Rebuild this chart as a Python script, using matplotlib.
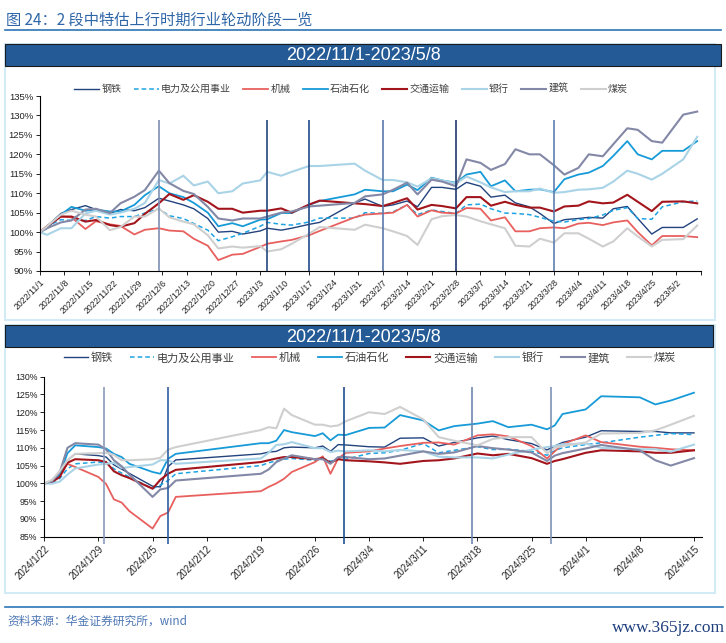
import pandas as pd
import matplotlib
matplotlib.use('Agg')
import matplotlib.pyplot as plt
from matplotlib.patches import Rectangle
from matplotlib.lines import Line2D

plt.rcParams['font.family'] = ['Noto Sans CJK SC', 'DejaVu Sans']

W, H = 726, 643

names = ['钢铁', '电力及公用事业', '机械', '石油石化', '交通运输', '银行', '建筑', '煤炭']
colors = ['#22437d', '#1ca3e3', '#e8605e', '#169ad8', '#a3151c', '#a9d3e6', '#8388a6', '#cfcfcf']
widths = [1.0, 1.1, 1.3, 1.3, 1.5, 1.5, 1.5, 1.5]
styles = ['-', (0, (3, 2)), '-', '-', '-', '-', '-', '-']

# ---- 2022/11/1 - 2023/5/8
dates_a = ['2022-11-01', '2022-11-03', '2022-11-07', '2022-11-10', '2022-11-14', '2022-11-17',
           '2022-11-21', '2022-11-24', '2022-11-28', '2022-12-01', '2022-12-05', '2022-12-08',
           '2022-12-12', '2022-12-15', '2022-12-19', '2022-12-22', '2022-12-26', '2022-12-29',
           '2023-01-03', '2023-01-05', '2023-01-09', '2023-01-12', '2023-01-17', '2023-01-20',
           '2023-01-30', '2023-02-02', '2023-02-07', '2023-02-10', '2023-02-14', '2023-02-17',
           '2023-02-21', '2023-02-24', '2023-02-28', '2023-03-03', '2023-03-07', '2023-03-10',
           '2023-03-14', '2023-03-17', '2023-03-21', '2023-03-24', '2023-03-28', '2023-03-31',
           '2023-04-04', '2023-04-07', '2023-04-11', '2023-04-14', '2023-04-18', '2023-04-21',
           '2023-04-25', '2023-04-28', '2023-05-04', '2023-05-08']
steel_a = [100, 101.5, 104.8, 105.8, 106.8, 105.8, 104.8, 105.8, 105.5, 106.3,
           108.7, 108, 107, 106, 103.5, 100, 100.2, 99.5, 100.3, 101,
           100.5, 101, 102, 102.5, 107.5, 108.5, 106.6, 107, 108, 106.5,
           111.5, 111.5, 111, 112.8, 111.8, 109, 109.5, 107.5, 106.5, 104.8,
           102.2, 103.2, 103.5, 103.8, 103.6, 106, 106.6, 103.5, 99.5, 101.2,
           101.2, 103.4]
power_a = [100, 101.5, 103.2, 103, 103, 104, 103.6, 104, 104, 104.9,
           106, 104.2, 103.5, 102.2, 100.5, 97.8, 98.8, 99.7, 101.5, 102.5,
           102, 101.8, 102.6, 103.6, 103.6, 105, 104.8, 105.2, 107, 104.5,
           105.7, 105.3, 104.8, 107, 107.2, 106, 104.9, 104.8, 104.5, 103.8,
           102.8, 102.6, 103.2, 103.5, 104.4, 105.6, 106.3, 103.5, 103.3, 106.5,
           107.8, 108]
mach_a = [100, 101.5, 104, 103.8, 100.8, 102.8, 102, 101.6, 99.4, 100.6,
          101, 100.4, 100.2, 98.3, 96.5, 92.8, 94.2, 94.4, 96.2, 97,
          97.6, 98, 99.2, 100.3, 103.8, 104.5, 104.8, 105, 107, 104,
          105.6, 105, 104.8, 106.2, 106, 103, 103.8, 100.2, 100.2, 101,
          101.2, 101, 102.2, 102.4, 101.8, 102.5, 103, 100, 96.6, 99,
          99, 98.7]
oil_a = [100, 101, 104.5, 106.5, 105.5, 105.8, 105.3, 105.3, 107, 109.5,
         111.8, 110, 109, 107.5, 105, 101.5, 102.3, 101.5, 103.2, 103.3,
         104.9, 104.9, 107, 108, 109.7, 110.9, 110.5, 110.5, 112.2, 110.8,
         114, 113.3, 112.7, 114.8, 115.5, 111.8, 113.3, 110.5, 110.9, 111,
         110.3, 113.6, 114.8, 115.3, 117, 119.6, 123.4, 120, 118.7, 120.9,
         120.9, 123.4]
trans_a = [100, 101.5, 104, 104, 102.7, 103.1, 101.8, 101.4, 102.3, 104.7,
           107.4, 109.8, 108.3, 109.5, 107.8, 106, 106, 105, 105.5, 105.5,
           106.1, 105, 107.1, 108.1, 107.4, 107.2, 106.7, 107.5, 108.7, 105.8,
           107, 106.7, 106.1, 109, 109, 106.8, 107.8, 107, 106.3, 106.3,
           105.3, 106.6, 106.8, 107.9, 107.4, 107.6, 109.6, 107.8, 105.4, 107.8,
           107.9, 107.4]
bank_a = [100, 99.3, 101, 101, 104.8, 105.5, 104.5, 105, 106, 107.5,
          113.4, 112.5, 114.5, 112, 113, 110, 110.5, 112.5, 113.3, 115.5,
          114.5, 115.5, 117, 117, 117.6, 115.8, 113.4, 113.4, 112.8, 111.7,
          113.8, 113.3, 112.5, 114.3, 112.8, 111.5, 110.3, 110.5, 110.5, 111.2,
          110.1, 110.3, 110.9, 111, 111.4, 113, 115.8, 115, 113.5, 115,
          118.7, 124.5]
build_a = [100, 101, 102.5, 103, 105.8, 106, 104.9, 107.4, 109.1, 110.8,
           115.8, 112.6, 110.6, 109.8, 106.5, 103.5, 103, 103.5, 103.5, 104,
           105, 105.3, 106.6, 106.8, 107.5, 109.2, 109.7, 110.9, 112.7, 109.7,
           113.5, 113, 111.8, 118.7, 117.8, 116, 117.5, 121.3, 120, 120,
           117.2, 114.8, 116.5, 120, 119.5, 122.6, 126.7, 126.3, 123.4, 123,
           130.2, 131]
coal_a = [100, 101.5, 104.5, 105.5, 104.5, 104, 100.5, 101.3, 104, 104,
          106.1, 103.8, 102.7, 102, 99.2, 95.8, 96.3, 96, 96.4, 95,
          95.6, 97, 99.6, 101.3, 100.6, 101.9, 101, 100.2, 99, 96.7,
          103.3, 104.1, 104.4, 104, 102.8, 102, 101, 96.5, 96.3, 98.3,
          97.3, 99.7, 99.7, 98.3, 96.3, 97.6, 101, 98.9, 96.3, 98,
          98.2, 101.7]
vlines_a = ['2022-12-05 00:00', '2023-01-05 00:00', '2023-01-17 00:00',
            '2023-02-07 00:00', '2023-02-28 00:00', '2023-03-28 00:00']
vcolors_a = ['#7d8fb3', '#22487f', '#1f4a8a', '#5a78aa', '#1f3a6e', '#5f7fb0']

# ---- 2024/1/22 - 2024/4/15
dates_b = ['2024-01-22', '2024-01-23', '2024-01-24', '2024-01-25', '2024-01-26', '2024-01-29',
           '2024-01-30', '2024-01-31', '2024-02-01', '2024-02-02', '2024-02-05', '2024-02-06',
           '2024-02-07', '2024-02-08', '2024-02-19', '2024-02-20', '2024-02-21', '2024-02-22',
           '2024-02-23', '2024-02-26', '2024-02-27', '2024-02-28', '2024-02-29', '2024-03-01',
           '2024-03-04', '2024-03-06', '2024-03-08', '2024-03-11', '2024-03-13', '2024-03-15',
           '2024-03-18', '2024-03-20', '2024-03-22', '2024-03-25', '2024-03-27', '2024-03-28',
           '2024-03-29', '2024-04-01', '2024-04-03', '2024-04-08', '2024-04-10', '2024-04-12',
           '2024-04-15']
steel_b = [100, 100.5, 102, 106.5, 108.3, 107.8, 107.4, 105.2, 104, 102.8,
           99.2, 99, 104.7, 106.6, 108.3, 108.8, 109, 110, 110.2, 110,
           110.5, 109, 110.9, 110.8, 110.3, 110.2, 112.7, 112.8, 110.5, 111.5,
           112.8, 113.3, 112.3, 111.2, 109.4, 110.5, 111.5, 113, 114.8, 114.6,
           114.6, 114.2, 114.2]
power_b = [100, 100.2, 101.4, 104.1, 105.5, 106, 105.8, 104.1, 102.9, 101.8,
           98.5, 99.5, 100.8, 102.7, 105, 105.8, 106.3, 106.8, 107, 106.5,
           107.1, 106.2, 106.8, 106.8, 108.4, 108.6, 109.3, 111.2, 108.6, 109.3,
           110.3, 109.5, 109.6, 109, 107.9, 109.2, 110, 110.9, 111.4, 113,
           113.5, 114, 113.7]
mach_b = [100, 100.5, 102.5, 105.5, 104.6, 101.8, 99.8, 95.5, 94.6, 92.2,
          87.3, 90.8, 91.8, 96.2, 97.8, 99, 100, 101.3, 103.2, 106,
          107.6, 102.7, 107, 108.6, 109, 109.8, 110.5, 111.4, 111.5, 110.9,
          113.5, 113.8, 113.2, 110.5, 107, 109, 111, 113.5, 111.6, 110.3,
          110, 109.6, 109.3]
oil_b = [100, 100.4, 102.5, 108.5, 110.7, 110.2, 109.8, 108.3, 107.4, 105.5,
         103.2, 102.7, 106.9, 108.3, 111.3, 111.3, 112, 115, 114.4, 113.3,
         114.1, 112.1, 113.7, 113.6, 115.6, 115.7, 119.2, 117.7, 114.9, 116.1,
         116.8, 117.5, 115.8, 116.5, 115.2, 116.3, 119.5, 120.8, 124.5, 124.2,
         122.2, 123.3, 125.5]
trans_b = [100, 100.4, 101.8, 105.8, 106.8, 106.5, 106, 103.4, 102.3, 101.5,
           98.5, 101, 102.7, 103.8, 106, 106.5, 107, 107.4, 107.4, 106.8,
           107.1, 105.8, 106.8, 106.5, 106.2, 105.9, 105.5, 106.3, 106.5, 107,
           108.4, 107.9, 108.3, 107.1, 105.5, 106.3, 106.8, 108.6, 109.3, 109,
           108.6, 108.6, 109.3]
bank_b = [100, 99.9, 100.5, 102.5, 104.2, 105.3, 105.5, 105.8, 104.3, 104.6,
          105.3, 106.5, 106.5, 105.5, 107, 108.6, 110.8, 111, 111.6, 109.9,
          109.9, 108.8, 109.2, 109, 109.3, 109, 109.4, 109, 107.5, 107.3,
          107.3, 107, 108.1, 109.5, 110.2, 110.5, 111, 111.2, 110, 109.6,
          109.6, 108.9, 110.9]
build_b = [100, 100.6, 103.2, 110, 111.3, 110.9, 109.5, 106.5, 104.8, 102.5,
           96.2, 98.3, 98.7, 100.8, 102.7, 103.9, 106, 107, 107.9, 106.8,
           106.8, 105.5, 107.4, 107.4, 106.8, 107, 107.8, 109, 108.3, 108.7,
           110.5, 109.9, 109.5, 108.7, 106.3, 107.8, 108.5, 109.8, 110.8, 109.3,
           106.5, 105, 107.1]
coal_b = [100, 101, 103.5, 106.5, 108.3, 108.5, 108.6, 108, 106.5, 106.5,
          106.8, 107.2, 109.5, 110.2, 115, 115.8, 115.5, 121, 119.2, 116.5,
          116.5, 116, 116.3, 117.5, 120, 119.5, 121.5, 118, 113, 112,
          110.7, 112.5, 113, 113, 108.5, 110, 110.5, 111.5, 114, 114.2,
          114.9, 116.5, 119]
vlines_b = ['2024-01-29 18:00', '2024-02-07 00:00', '2024-02-29 18:00',
            '2024-03-17 08:00', '2024-03-27 12:00']
vcolors_b = ['#8a9bbb', '#2f5da0', '#1f4e8c', '#6f86b0', '#7f93b8']


def fx(x):
    return x / W


def fy(y):
    return 1 - y / H


fig = plt.figure(figsize=(W / 100, H / 100), dpi=100)

# header
fig.text(fx(6), fy(20), '图 24：2 段中特估上行时期行业轮动阶段一览', fontsize=11,
         color='#2f66a8', va='center', ha='left')
fig.add_artist(Line2D([fx(5), fx(721)], [fy(30), fy(30)], color='#2e75b6', lw=1.2))

# panel frames and banners
for top, bot, bright in [(44, 320, 721), (325, 593, 713)]:
    fig.add_artist(Rectangle((fx(5), fy(bot)), (715 - 5) / W, (bot - top) / H,
                             fill=False, ec='#d3eaf7', lw=1.5, transform=fig.transFigure))
    fig.add_artist(Rectangle((fx(5), fy(top + 22)), (bright - 5) / W, 22 / H,
                             fc='#245b96', ec='#1a1a1a', lw=0.8, transform=fig.transFigure))
    fig.text(fx(364), fy(top + 12), '2022/11/1-2023/5/8', fontsize=13, color='white',
             family='Liberation Sans', ha='center', va='center')


def panel(rect, dates, series, ylim, xticks, xlim, end_tick, vlines, vcolors, vspan,
          yfs, xfs, legend_xy, legend_fs, hlen, cspace):
    ax = fig.add_axes(rect)
    ax.patch.set_alpha(0)
    d = pd.to_datetime(dates)
    for vals, name, c, lw, ls in zip(series, names, colors, widths, styles):
        ax.plot(d, vals, color=c, lw=lw, ls=ls, label=name)
    ax.vlines(pd.to_datetime(vlines), vspan[0], vspan[1], colors=vcolors, lw=1.2,
              clip_on=False, zorder=5)
    ax.set_xlim(pd.Timestamp(xlim[0]), pd.Timestamp(xlim[1]))
    ax.set_ylim(*ylim)
    yt = list(range(ylim[0], ylim[1] + 1, 5))
    ax.set_yticks(yt)
    ax.set_yticklabels([f'{v}%' for v in yt], fontsize=yfs, family='Liberation Sans',
                       color='#222222')
    xt = pd.date_range(xticks[0], xticks[1], freq='7D')
    labels = [f'{t.year}/{t.month}/{t.day}' for t in xt]
    if end_tick:
        xt = xt.append(pd.DatetimeIndex([pd.Timestamp(xlim[1])]))
        labels.append('')
    ax.set_xticks(xt)
    ax.set_xticklabels(labels, rotation=45, ha='right', rotation_mode='anchor',
                       fontsize=xfs, family='Liberation Sans', color='#222222')
    for s in ['top', 'right']:
        ax.spines[s].set_visible(False)
    for s in ['left', 'bottom']:
        ax.spines[s].set_linewidth(0.8)
    ax.tick_params(direction='out', length=3, width=0.6, pad=2)
    h, l = ax.get_legend_handles_labels()
    fig.legend(h[:8], l[:8], loc='center', bbox_to_anchor=legend_xy, ncol=8, frameon=False,
               fontsize=legend_fs, handlelength=hlen, handletextpad=0.25,
               columnspacing=cspace, labelcolor='#404040', borderpad=0)
    return ax


panel([fx(40), fy(271), (700.7 - 40) / W, 175 / H], dates_a,
      [steel_a, power_a, mach_a, oil_a, trans_a, bank_a, build_a, coal_a],
      (90, 135), ('2022-11-01', '2023-05-02'), ('2022-11-01', '2023-05-09'), True,
      vlines_a, vcolors_a, (90, 128.8), 6.8, 6.3, (fx(351), fy(89)), 7.2, 2.5, 1.2)

panel([fx(44.3), fy(536.7), (701.7 - 44.3) / W, 160 / H], dates_b,
      [steel_b, power_b, mach_b, oil_b, trans_b, bank_b, build_b, coal_b],
      (85, 130), ('2024-01-22', '2024-04-15'), ('2024-01-22', '2024-04-16'), False,
      vlines_b, vcolors_b, (83, 127), 6.3, 7, (fx(370), fy(358)), 8, 2.15, 1.55)

# footer
fig.add_artist(Line2D([fx(5), fx(723)], [fy(607), fy(607)], color='#2e75b6', lw=1.2))
fig.text(fx(7), fy(621), '资料来源：华金证券研究所，wind', fontsize=8.5, style='italic',
         color='#4f78b5', va='center', ha='left')
fig.text(fx(725), fy(628), 'www.365jz.com', fontsize=12.5, family='Liberation Serif',
         color='#1f3f7f', va='center', ha='right')

fig.savefig('out.png', dpi=100)
